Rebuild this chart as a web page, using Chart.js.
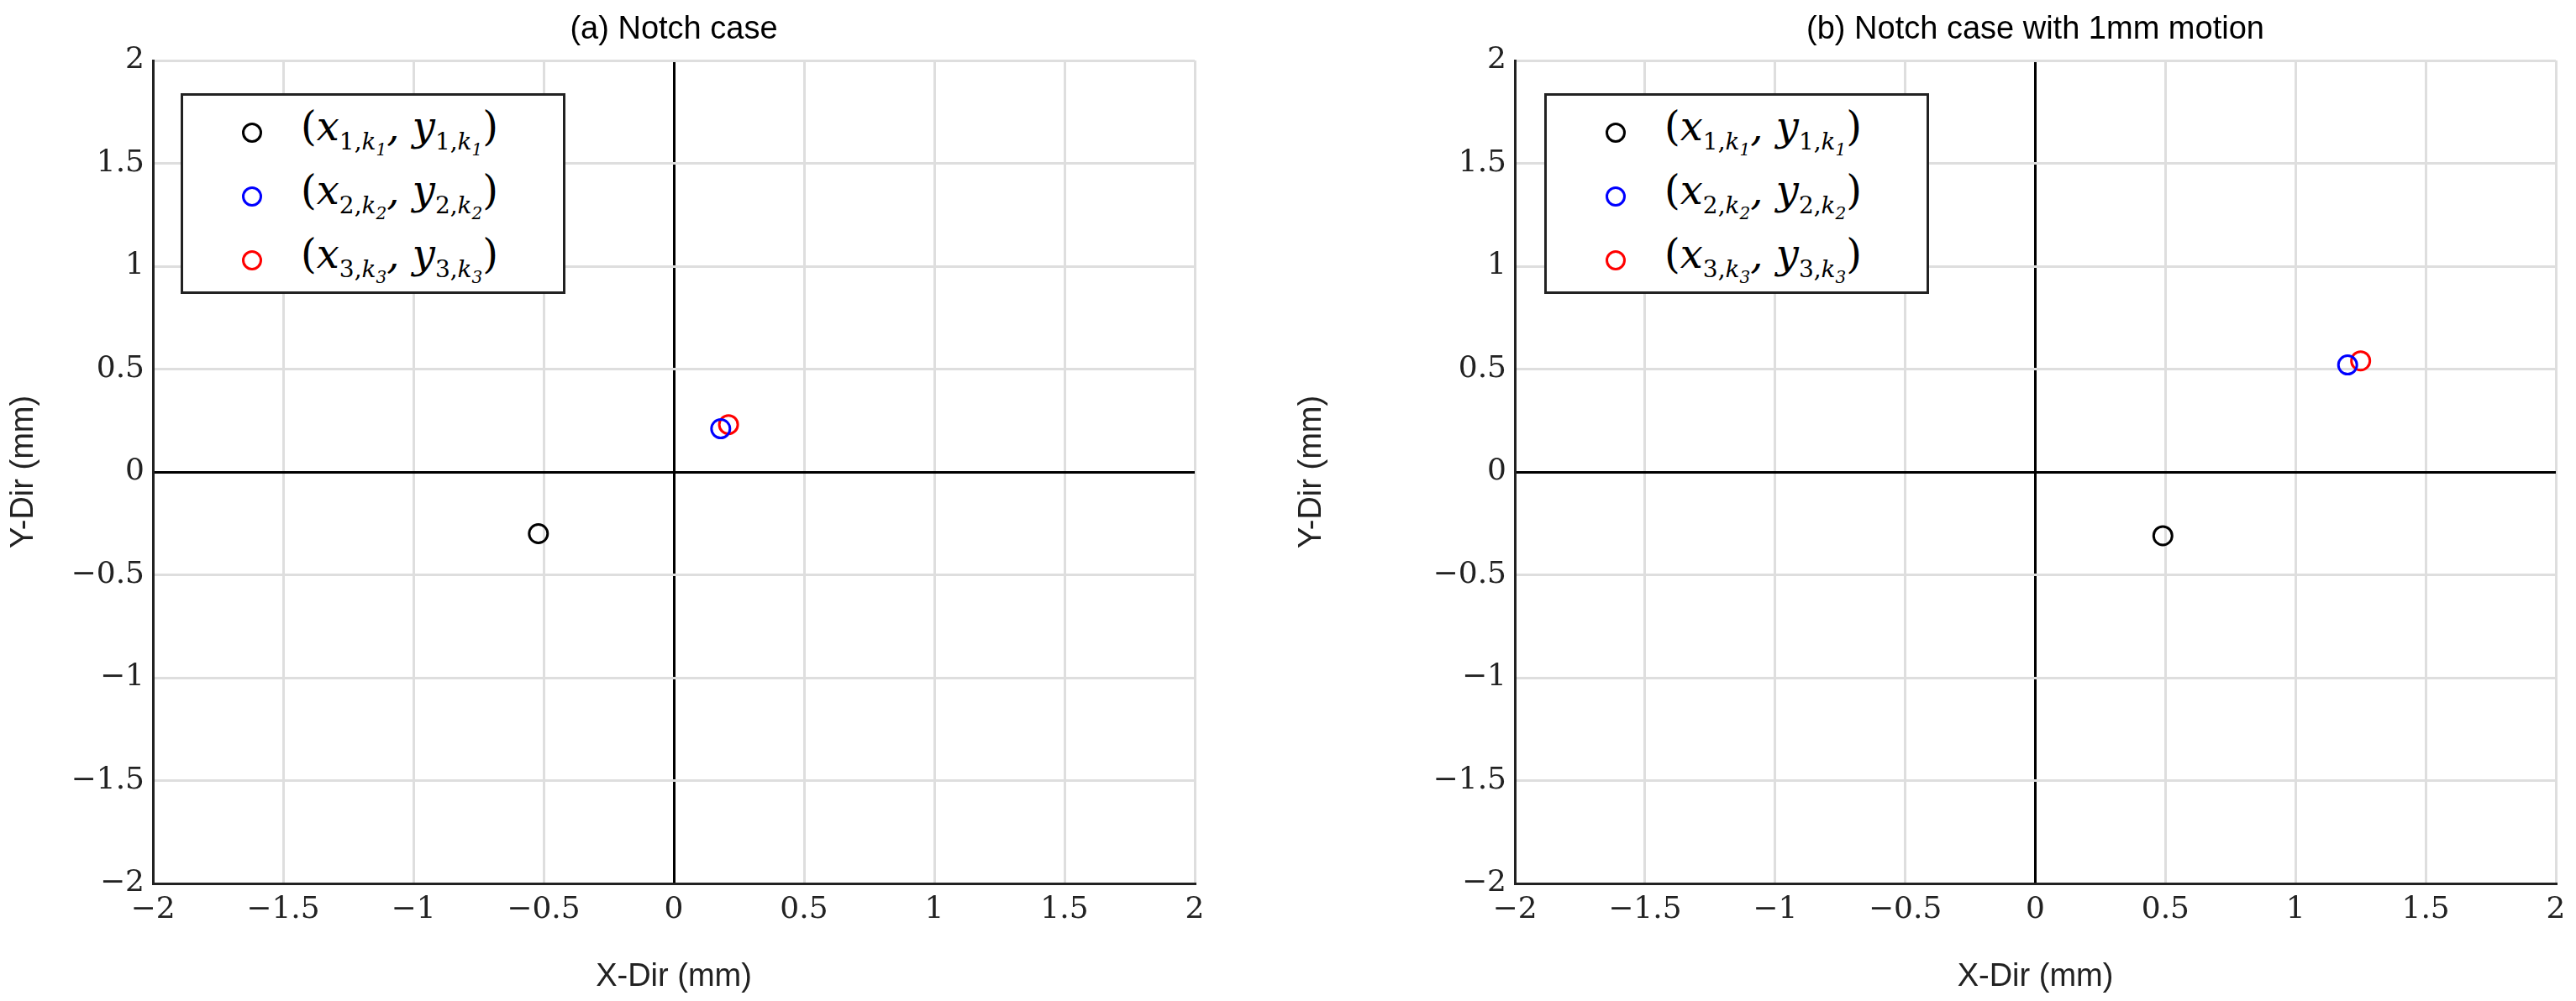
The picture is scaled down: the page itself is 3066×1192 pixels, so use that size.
<!DOCTYPE html>
<html><head><meta charset="utf-8">
<script src="https://cdn.jsdelivr.net/npm/chart.js@4/dist/chart.umd.min.js"></script>
<style>
body{margin:0;background:#fff;width:3066px;height:1192px;position:relative;overflow:hidden}
.panel{position:absolute;top:0;width:1533px;height:1192px}
.title{position:absolute;top:12px;font:38px "Liberation Sans",Arial,sans-serif;color:#000;text-align:center}
.legend{position:absolute;top:111px;width:458px;height:239px;border:3px solid #222;background:#fff;box-sizing:border-box}
.row{position:absolute;left:0;height:70px;font:italic 48px "DejaVu Serif","Liberation Serif",serif}
.row .m{position:absolute;left:70px;top:24px;width:18px;height:18px;border:3px solid;border-radius:50%}
.row .t{position:absolute;left:140px;top:0;white-space:nowrap}
.row sub{font-size:28px}
.row sub sub{font-size:20px}
.up{font-style:normal}
</style></head><body>
<div class="panel" style="left:0"><canvas id="c1" width="1533" height="1192"></canvas></div>
<div class="panel" style="left:1533px"><canvas id="c2" width="1533" height="1192"></canvas></div>
<div class="title" style="left:182px;width:1240px">(a) Notch case</div>
<div class="title" style="left:1803px;width:1239px">(b) Notch case with 1mm motion</div>
<div id="lg1" class="legend" style="left:215px"></div>
<div id="lg2" class="legend" style="left:1838px"></div>
<script>
const tickValues = [-2, -1.5, -1, -0.5, 0, 0.5, 1, 1.5, 2];
const seriesColors = ['#000000', '#0000ff', '#ff0000'];
const seriesIdx = [1, 2, 3];
// panel (a)
const aX = [-0.52, 0.18, 0.21];
const aY = [-0.30, 0.21, 0.23];
// panel (b)
const bX = [0.49, 1.20, 1.25];
const bY = [-0.31, 0.52, 0.54];

function fmt(v) { return String(v).replace('-', '\u2212'); }

function axis(title, isY, side) {
  return {
    type: 'linear', min: -2, max: 2,
    afterBuildTicks: s => { s.ticks = tickValues.map(v => ({ value: v })); },
    afterFit: s => { if (isY) s.width = side; else s.height = 140; },
    ticks: { callback: fmt, color: '#222', font: { family: 'DejaVu Serif', size: 36 }, padding: 10, maxRotation: 0 },
    grid: {
      drawTicks: false, lineWidth: 3,
      color: c => c.tick && c.tick.value === 0 ? '#000' : '#dedede'
    },
    border: { display: true, color: '#222', width: 3 },
    title: { display: true, text: title, color: '#222', font: { family: 'Liberation Sans', size: 38 }, padding: 6 }
  };
}

function makeChart(id, xs, ys, left, right) {
  new Chart(document.getElementById(id), {
    type: 'scatter',
    data: {
      datasets: xs.map((x, i) => ({
        data: [{ x: x, y: ys[i] }],
        pointStyle: 'circle', pointRadius: 11, pointBorderWidth: 3,
        borderColor: seriesColors[i], backgroundColor: 'rgba(0,0,0,0)'
      }))
    },
    options: {
      responsive: false, animation: false,
      layout: { padding: { top: 72, right: right, left: 0, bottom: 0 } },
      plugins: { legend: { display: false }, tooltip: { enabled: false } },
      scales: { x: axis('X-Dir (mm)', false), y: axis('Y-Dir (mm)', true, left) }
    }
  });
}

function makeLegend(id) {
  const el = document.getElementById(id);
  seriesIdx.forEach((n, i) => {
    const r = document.createElement('div');
    r.className = 'row';
    r.style.top = (8 + i * 76) + 'px';
    r.innerHTML = `<span class="m" style="border-color:${seriesColors[i]}"></span>` +
      `<span class="t"><span class="up">(</span>x<sub class="up">${n},<i>k<sub>${n}</sub></i></sub>, y<sub class="up">${n},<i>k<sub>${n}</sub></i></sub><span class="up">)</span></span>`;
    el.appendChild(r);
  });
}

makeChart('c1', aX, aY, 182, 111);
makeChart('c2', bX, bY, 270, 24);
makeLegend('lg1');
makeLegend('lg2');
</script>
</body></html>
